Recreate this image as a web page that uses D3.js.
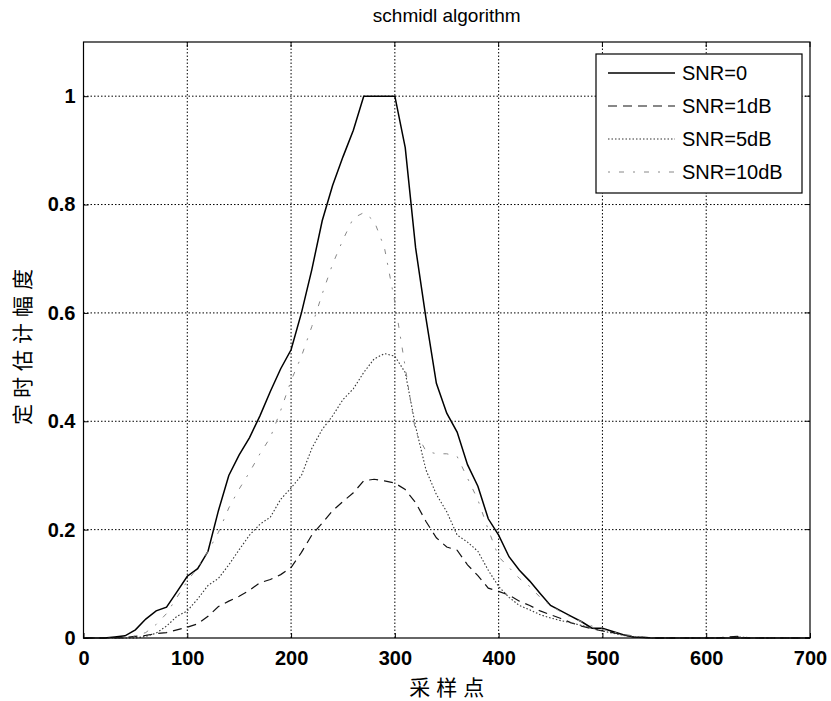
<!DOCTYPE html>
<html>
<head>
<meta charset="utf-8">
<script src="https://cdn.jsdelivr.net/npm/d3@7"></script>
<style>
body { margin: 0; background: #fff; }
svg text { font-family: "Liberation Sans", Arial, sans-serif; fill: #000; }
</style>
</head>
<body>
<svg id="chart" width="831" height="701"></svg>
<script>
// sample index (every 10 points)
var samples = d3.range(0, 701, 10);

var snr0 = [0,0,0,0.002,0.004,0.015,0.035,0.05,0.057,0.085,
  0.114,0.128,0.16,0.235,0.3,0.338,0.37,0.41,0.455,0.497,
  0.532,0.6,0.68,0.77,0.835,0.888,0.937,1.0,1.0,1.0,
  1.0,0.905,0.72,0.59,0.47,0.415,0.38,0.32,0.28,0.22,
  0.19,0.15,0.125,0.105,0.082,0.06,0.05,0.04,0.03,0.018,
  0.018,0.012,0.006,0.002,0.001,0,0,0,0,0,
  0,0,0,0,0,0,0,0,0,0,0];

var snr1 = [0,0,0,0,0.001,0.003,0.005,0.008,0.01,0.015,
  0.02,0.026,0.04,0.058,0.068,0.077,0.088,0.102,0.108,0.117,
  0.13,0.158,0.19,0.212,0.235,0.252,0.268,0.29,0.293,0.29,
  0.286,0.274,0.25,0.215,0.185,0.168,0.162,0.135,0.115,0.092,
  0.086,0.079,0.068,0.06,0.05,0.043,0.036,0.028,0.022,0.017,
  0.013,0.01,0.006,0.002,0.001,0,0,0,0,0,
  0,0,0.002,0.003,0,0,0,0,0,0,0];

var snr5 = [0,0,0,0,0,0,0.003,0.009,0.022,0.04,
  0.05,0.072,0.097,0.11,0.135,0.163,0.19,0.21,0.223,0.256,
  0.277,0.3,0.35,0.385,0.41,0.44,0.46,0.49,0.515,0.525,
  0.52,0.49,0.39,0.31,0.265,0.233,0.19,0.177,0.16,0.125,
  0.095,0.075,0.06,0.052,0.043,0.037,0.032,0.028,0.023,0.018,
  0.013,0.009,0.005,0.002,0.001,0,0,0,0,0,
  0,0,0,0.002,0.001,0,0,0,0,0,0];

var snr10 = [0,0,0,0,0,0.004,0.01,0.025,0.045,0.075,
  0.105,0.13,0.16,0.195,0.24,0.275,0.306,0.34,0.37,0.42,
  0.475,0.52,0.575,0.635,0.69,0.735,0.775,0.785,0.77,0.72,
  0.62,0.5,0.38,0.345,0.34,0.34,0.335,0.295,0.255,0.2,
  0.15,0.13,0.11,0.095,0.075,0.06,0.048,0.038,0.03,0.022,
  0.016,0.011,0.007,0.004,0.002,0,0,0,0,0,
  0,0,0,0,0,0,0,0,0,0,0];

var seriesNames = ["SNR=0", "SNR=1dB", "SNR=5dB", "SNR=10dB"];
var xTicks = [0, 100, 200, 300, 400, 500, 600, 700];
var yTicks = [0, 0.2, 0.4, 0.6, 0.8, 1];

var svg = d3.select("#chart");
var margin = {top: 42, right: 21, bottom: 63, left: 83.5};
var width = 831, height = 701;

var xScale = d3.scaleLinear().domain([0, 700]).range([margin.left, width - margin.right]);
var yScale = d3.scaleLinear().domain([0, 1.1]).range([height - margin.bottom, margin.top]);

var styles = [
  {dash: null, color: "#000", w: 1.5},
  {dash: "9,6", color: "#111", w: 1.2},
  {dash: "1.5,2", color: "#333", w: 1.1},
  {dash: "2,9,5,9", color: "#888", w: 1}
];

// grid
var grid = svg.append("g");
grid.selectAll(".gx").data(xTicks.slice(1, -1)).enter().append("line")
  .attr("x1", function(d){ return xScale(d); })
  .attr("x2", function(d){ return xScale(d); })
  .attr("y1", yScale(0)).attr("y2", yScale(1.1))
  .style("stroke", "#000").style("stroke-width", 1).style("stroke-dasharray", "1.5,2");
grid.selectAll(".gy").data(yTicks.slice(1)).enter().append("line")
  .attr("y1", function(d){ return yScale(d); })
  .attr("y2", function(d){ return yScale(d); })
  .attr("x1", xScale(0)).attr("x2", xScale(700))
  .style("stroke", "#000").style("stroke-width", 1).style("stroke-dasharray", "1.5,2");

// curves
var allSeries = [snr0, snr1, snr5, snr10];
var line = d3.line()
  .x(function(d, i){ return xScale(samples[i]); })
  .y(function(d){ return yScale(d); });

allSeries.forEach(function(s, k) {
  svg.append("path")
    .attr("d", line(s))
    .style("fill", "none")
    .style("stroke", styles[k].color)
    .style("stroke-width", styles[k].w)
    .style("stroke-dasharray", styles[k].dash);
});

// axes (MATLAB style box with inward ticks)
var xAxis = d3.axisBottom(xScale).tickValues(xTicks).tickSizeInner(-5).tickSizeOuter(0).tickPadding(9);
var yAxis = d3.axisLeft(yScale).tickValues(yTicks).tickSizeInner(-5).tickSizeOuter(0).tickPadding(8)
  .tickFormat(function(d){ return d === 0 || d === 1 ? String(d) : d3.format(".1f")(d); });

var gx = svg.append("g")
  .attr("transform", "translate(0," + yScale(0) + ")")
  .call(xAxis);
var gy = svg.append("g")
  .attr("transform", "translate(" + xScale(0) + ",0)")
  .call(yAxis);
[gx, gy].forEach(function(g) {
  g.select(".domain").remove();
  g.selectAll("line").style("stroke", "#000");
  g.selectAll("text").style("font-size", "20px").style("font-weight", "bold")
    .style("font-family", "'Liberation Sans', Arial, sans-serif");
});
gx.selectAll("text").attr("dy", "0.9em");

// top / right ticks
svg.append("g").selectAll("line").data(xTicks).enter().append("line")
  .attr("x1", function(d){ return xScale(d); }).attr("x2", function(d){ return xScale(d); })
  .attr("y1", yScale(1.1)).attr("y2", yScale(1.1) + 5)
  .style("stroke", "#000");
svg.append("g").selectAll("line").data(yTicks).enter().append("line")
  .attr("y1", function(d){ return yScale(d); }).attr("y2", function(d){ return yScale(d); })
  .attr("x1", xScale(700)).attr("x2", xScale(700) - 5)
  .style("stroke", "#000");

svg.append("rect")
  .attr("x", xScale(0)).attr("y", yScale(1.1))
  .attr("width", xScale(700) - xScale(0))
  .attr("height", yScale(0) - yScale(1.1))
  .style("fill", "none").style("stroke", "#000").style("stroke-width", 1.2);

// titles
svg.append("text")
  .attr("x", (xScale(0) + xScale(700)) / 2).attr("y", 22)
  .attr("text-anchor", "middle")
  .style("font-size", "19px")
  .text("schmidl algorithm");

svg.append("text")
  .attr("x", (xScale(0) + xScale(700)) / 2 + 3).attr("y", 695)
  .attr("text-anchor", "middle")
  .style("font-size", "21px").style("letter-spacing", "6px")
  .style("font-family", "'Noto Sans CJK SC', sans-serif")
  .text("采样点");

svg.append("text")
  .attr("transform", "translate(30," + (yScale(0.55) + 4) + ") rotate(-90)")
  .attr("text-anchor", "middle")
  .style("font-size", "21px").style("letter-spacing", "6px")
  .style("font-family", "'Noto Sans CJK SC', sans-serif")
  .text("定时估计幅度");

// legend
var legend = svg.append("g").attr("transform", "translate(596,54)");
legend.append("rect")
  .attr("width", 206).attr("height", 139)
  .style("fill", "#fff").style("stroke", "#000").style("stroke-width", 1.2);
var rows = legend.selectAll(".row").data(seriesNames).enter().append("g")
  .attr("transform", function(d, i){ return "translate(0," + (19 + i * 33) + ")"; });
rows.append("line")
  .attr("x1", 12).attr("x2", 79).attr("y1", 0).attr("y2", 0)
  .style("stroke", function(d, i){ return styles[i].color; })
  .style("stroke-width", function(d, i){ return styles[i].w; })
  .style("stroke-dasharray", function(d, i){ return styles[i].dash; });
rows.append("text")
  .attr("x", 86).attr("y", 0).attr("dy", "0.36em")
  .style("font-size", "20px")
  .text(function(d){ return d; });
</script>
</body>
</html>
